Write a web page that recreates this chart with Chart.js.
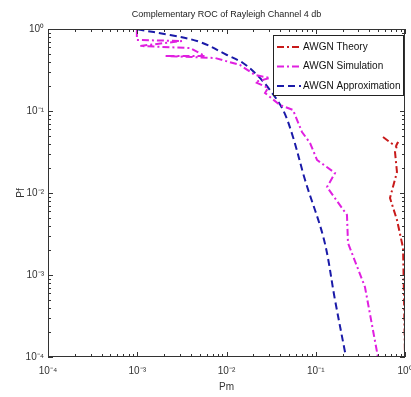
<!DOCTYPE html>
<html>
<head>
<meta charset="utf-8">
<script src="https://cdn.jsdelivr.net/npm/chart.js@4/dist/chart.umd.min.js"></script>
<style>
  html, body { margin: 0; padding: 0; background: #fff; }
  #wrap { width: 411px; height: 397px; }
</style>
</head>
<body>
<div id="wrap"><canvas id="roc" width="411" height="397"></canvas></div>
<script>
// --- datos ---
const theoryPm = [0.567, 0.697, 0.793, 0.835, 0.773, 0.813, 0.679, 0.813, 0.951, 0.976, 1.0];
const theoryPf = [0.0482, 0.0407, 0.0374, 0.0419, 0.0316, 0.018, 0.0087, 0.00469, 0.00214, 0.000495, 0.0001];

const simPm = [0.00099, 0.00099, 0.00317, 0.00107, 0.0039, 0.00574, 0.00205, 0.00743, 0.01416, 0.02085, 0.0307, 0.02085, 0.0292, 0.027, 0.0398, 0.0556, 0.0701, 0.0863, 0.1033, 0.1644, 0.1337, 0.2238, 0.2297, 0.356, 0.4977];
const simPf = [0.97, 0.734, 0.714, 0.621, 0.586, 0.469, 0.469, 0.443, 0.364, 0.275, 0.253, 0.226, 0.191, 0.166, 0.118, 0.103, 0.0555, 0.0407, 0.0253, 0.0175, 0.0118, 0.0054, 0.00246, 0.000714, 0.0001];

const approxPm = [0.001, 0.00233, 0.00505, 0.0101, 0.0153, 0.022, 0.0307, 0.043, 0.0556, 0.0759, 0.124, 0.1644, 0.218];
const approxPf = [0.99, 0.845, 0.694, 0.482, 0.385, 0.275, 0.180, 0.103, 0.0482, 0.0144, 0.00267, 0.000495, 0.0001];

const seriesNames = ["AWGN Theory", "AWGN Simulation", "AWGN Approximation"];
const chartTitle = "Complementary ROC of Rayleigh Channel 4 db";
const decades = [-4, -3, -2, -1, 0];
const supDigits = { "-": "\u207B", "0": "\u2070", "1": "\u00B9", "2": "\u00B2", "3": "\u00B3", "4": "\u2074" };

const FONT = "'Liberation Sans Narrow', 'Liberation Sans', Arial, sans-serif";

function toPoints(xs, ys) {
    return xs.map((x, i) => ({ x, y: ys[i] }));
}

function decadeLabel(v) {
    const e = Math.round(Math.log10(v));
    return "10" + String(e).split("").map(c => supDigits[c]).join("");
}

// ticks mayores y menores (estilo matlab)
function logTicks(scale) {
    const ticks = [];
    decades.forEach(e => {
        for (let m = 1; m <= 9; m++) {
            if (e === 0 && m > 1) break;
            ticks.push({ value: m * Math.pow(10, e), major: m === 1 });
        }
    });
    scale.ticks = ticks;
}

// caja, ticks hacia dentro y leyenda
const boxPlugin = {
    id: "boxPlugin",
    afterDraw(chart) {
        const ctx = chart.ctx;
        const a = chart.chartArea;
        const xs = chart.scales.x, ys = chart.scales.y;
        ctx.save();
        ctx.strokeStyle = "#333";
        ctx.lineWidth = 1;
        ctx.strokeRect(a.left + 0.5, a.top + 0.5, a.right - a.left - 1, a.bottom - a.top - 1);

        ctx.beginPath();
        xs.ticks.forEach(t => {
            const px = Math.round(xs.getPixelForValue(t.value)) + 0.5;
            const len = t.major ? 5 : 3;
            ctx.moveTo(px, a.bottom); ctx.lineTo(px, a.bottom - len);
            ctx.moveTo(px, a.top); ctx.lineTo(px, a.top + len);
        });
        ys.ticks.forEach(t => {
            const py = Math.round(ys.getPixelForValue(t.value)) + 0.5;
            const len = t.major ? 5 : 3;
            ctx.moveTo(a.left, py); ctx.lineTo(a.left + len, py);
            ctx.moveTo(a.right, py); ctx.lineTo(a.right - len, py);
        });
        ctx.stroke();

        // --- leyenda ---
        const bx = a.right - 132, by = a.top + 6, bw = 130, bh = 60;
        ctx.fillStyle = "#fff";
        ctx.fillRect(bx, by, bw, bh);
        ctx.strokeStyle = "#222";
        ctx.strokeRect(bx + 0.5, by + 0.5, bw, bh);
        ctx.font = "10px " + FONT;
        ctx.textBaseline = "middle";
        chart.data.datasets.forEach((ds, i) => {
            const ry = by + 12 + i * 19.5;
            ctx.beginPath();
            ctx.strokeStyle = ds.borderColor;
            ctx.lineWidth = ds.borderWidth;
            ctx.setLineDash(ds.borderDash);
            ctx.moveTo(bx + 4, ry);
            ctx.lineTo(bx + 28, ry);
            ctx.stroke();
            ctx.setLineDash([]);
            ctx.fillStyle = "#111";
            ctx.fillText(ds.label, bx + 30, ry);
        });
        ctx.restore();
    }
};

const datasets = [
    {
        label: seriesNames[0],
        data: toPoints(theoryPm, theoryPf),
        borderColor: "#c81a1a",
        borderWidth: 2,
        borderDash: [7, 3, 2, 3],
        tension: 0
    },
    {
        label: seriesNames[1],
        data: toPoints(simPm, simPf),
        borderColor: "#e020e0",
        borderWidth: 2,
        borderDash: [7, 3, 2, 3],
        tension: 0
    },
    {
        label: seriesNames[2],
        data: toPoints(approxPm, approxPf),
        borderColor: "#1a1aa8",
        borderWidth: 2,
        borderDash: [7, 4],
        tension: 0.35
    }
].map(d => Object.assign(d, { showLine: true, pointRadius: 0, fill: false }));

new Chart(document.getElementById("roc"), {
    type: "scatter",
    data: { datasets },
    options: {
        responsive: false,
        animation: false,
        layout: { padding: { left: 0, right: 6, top: 0, bottom: 0 } },
        plugins: {
            legend: { display: false },
            tooltip: { enabled: false },
            title: { display: false }
        },
        scales: {
            x: {
                type: "logarithmic",
                min: 1e-4,
                max: 1,
                afterBuildTicks: logTicks,
                afterFit: s => { s.height = 40; s.paddingLeft = 0; s.paddingRight = 0; },
                grid: { display: false, drawTicks: false },
                border: { display: false },
                ticks: {
                    autoSkip: false,
                    maxRotation: 0,
                    padding: 8,
                    color: "#333",
                    font: { family: FONT, size: 10 },
                    callback: (v, i, t) => t[i].major ? decadeLabel(v) : ""
                },
                title: {
                    display: true,
                    text: "Pm",
                    color: "#333",
                    font: { family: FONT, size: 10 },
                    padding: { top: 0, bottom: 4 }
                }
            },
            // eje superior solo para centrar el titulo sobre el area del grafico
            top: {
                type: "linear",
                position: "top",
                min: 0,
                max: 1,
                afterFit: s => { s.height = 29; s.paddingLeft = 0; s.paddingRight = 0; },
                grid: { display: false, drawTicks: false },
                border: { display: false },
                ticks: { display: false },
                title: {
                    display: true,
                    text: chartTitle,
                    color: "#222",
                    font: { family: FONT, size: 9 },
                    padding: { top: 9, bottom: 9 }
                }
            },
            y: {
                type: "logarithmic",
                min: 1e-4,
                max: 1,
                afterBuildTicks: logTicks,
                afterFit: s => { s.width = 48; s.paddingTop = 0; s.paddingBottom = 0; },
                grid: { display: false, drawTicks: false },
                border: { display: false },
                ticks: {
                    autoSkip: false,
                    padding: 4,
                    color: "#333",
                    font: { family: FONT, size: 10 },
                    callback: (v, i, t) => t[i].major ? decadeLabel(v) : ""
                },
                title: {
                    display: true,
                    text: "Pf",
                    color: "#333",
                    font: { family: FONT, size: 10 },
                    padding: { top: 15, bottom: 0 }
                }
            }
        }
    },
    plugins: [boxPlugin]
});
</script>
</body>
</html>
